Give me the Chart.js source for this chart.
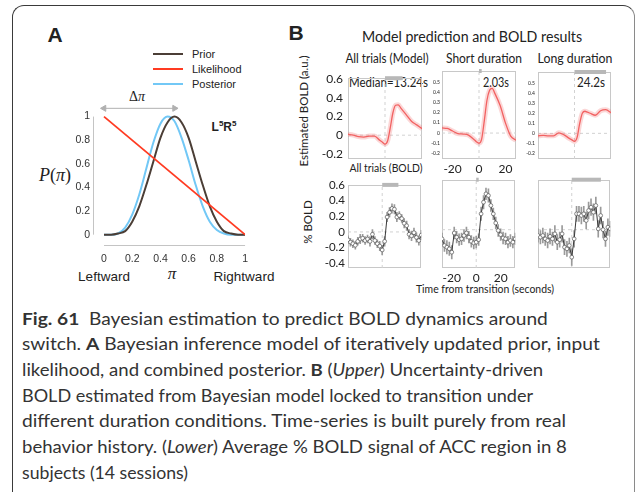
<!DOCTYPE html>
<html>
<head>
<meta charset="utf-8">
<script src="https://cdn.jsdelivr.net/npm/chart.js@4.4.1/dist/chart.umd.min.js"></script>
<style>
  body { margin: 0; background: #fff; }
  #page { position: relative; width: 637px; height: 492px; overflow: hidden; font-family: Lato, 'Liberation Sans', sans-serif; color: #222; }
  #frame { position: absolute; left: 12px; top: 5px; width: 621px; height: 510px; border: 1px solid #3a3a3a; border-right-color: #8a8a8a; border-radius: 12px; }
  .t { position: absolute; white-space: nowrap; line-height: 1; }
  .c { transform: translate(-50%, -50%); }
  .l { transform: translate(0, -50%); transform-origin: 0 50%; }
  .rot { transform: translate(-50%, -50%) rotate(-90deg); }
  .panel { position: absolute; }
  .sans { font-family: 'Liberation Sans', Arial, sans-serif; }
  .serif { font-family: 'Liberation Serif', 'DejaVu Serif', serif; }
  .cap { position: absolute; left: 22px; white-space: nowrap; font-family: Lato, sans-serif; font-size: 17px; line-height: 1; color: #333; transform-origin: 0 50%; }
  .legRow { position: absolute; left: 153px; height: 14px; }
  .legRow .sw { position: absolute; left: 0; top: 6px; width: 30px; height: 2px; }
  .legRow span { position: absolute; left: 39px; top: 1px; font-size: 11px; white-space: nowrap; }
  sup { font-size: 8px; vertical-align: 5px; line-height: 0; }
</style>
</head>
<body>
<div id="page">
  <div id="frame"></div>

  <!-- panel A text -->
  <div class="t c sans" style="left:55px;top:34px;font-size:21px;font-weight:bold">A</div>
  <div id="legendA" class="sans"></div>
  <div class="t c serif" style="left:137px;top:97px;font-size:14px">Δ<i>π</i></div>
  <div class="t c serif" style="left:55px;top:175px;font-size:18px"><i>P</i>(<i>π</i>)</div>
  <div class="t c sans" style="left:224px;top:127px;font-size:12px;font-weight:bold">L<sup>5</sup>R<sup>5</sup></div>
  <div class="t c sans" style="left:104px;top:277px;font-size:13.5px">Leftward</div>
  <div class="t c serif" style="left:172px;top:273px;font-size:17px"><i>π</i></div>
  <div class="t c sans" style="left:244px;top:277px;font-size:13.5px">Rightward</div>

  <!-- panel B text -->
  <div class="t c sans" style="left:296px;top:32px;font-size:21px;font-weight:bold">B</div>
  <div class="t c" data-w="220" style="left:472px;top:37px;font-size:14.5px">Model prediction and BOLD results</div>
  <div class="t c" data-w="83" style="left:387px;top:59px;font-size:12.5px">All trials (Model)</div>
  <div class="t c" data-w="76" style="left:484px;top:59px;font-size:12.5px">Short duration</div>
  <div class="t c" data-w="75" style="left:575px;top:59px;font-size:12.5px">Long duration</div>
  <div class="t rot" style="left:304px;top:111px;font-size:11.5px">Estimated BOLD (a.u.)</div>
  <div class="t l" data-w="79" style="left:349px;top:82px;font-size:13px">Median=13.24s</div>
  <div class="t l" data-w="26" style="left:483px;top:82px;font-size:13px">2.03s</div>
  <div class="t l" data-w="28" style="left:577px;top:82px;font-size:13px">24.2s</div>
  <div class="t c" data-w="73" style="left:386px;top:168px;font-size:11.5px">All trials (BOLD)</div>
  <div class="t rot" style="left:308px;top:222px;font-size:11.5px">% BOLD</div>
  <div class="t c" data-w="138" style="left:485px;top:288px;font-size:11px">Time from transition (seconds)</div>

  <!-- caption -->
  <div class="cap" data-w="526" style="top:318px"><b>Fig. 61</b>&nbsp; Bayesian estimation to predict BOLD dynamics around</div>
  <div class="cap" data-w="578" style="top:343px">switch. <b>A</b> Bayesian inference model of iteratively updated prior, input</div>
  <div class="cap" data-w="521" style="top:369px">likelihood, and combined posterior. <b>B</b> (<i>Upper</i>) Uncertainty-driven</div>
  <div class="cap" data-w="511" style="top:395px">BOLD estimated from Bayesian model locked to transition under</div>
  <div class="cap" data-w="544" style="top:420px">different duration conditions. Time-series is built purely from real</div>
  <div class="cap" data-w="545" style="top:446px">behavior history. (<i>Lower</i>) Average % BOLD signal of ACC region in 8</div>
  <div class="cap" data-w="166" style="top:472px">subjects (14 sessions)</div>
</div>

<script>
// ---- panel A data
const piGrid = [0, 0.05, 0.1, 0.15, 0.2, 0.25, 0.3, 0.35, 0.4, 0.45, 0.5, 0.55, 0.6, 0.65, 0.7, 0.75, 0.8, 0.85, 0.9, 0.95, 1];
const priorVals = [0, 0, 0.01, 0.03, 0.11, 0.24, 0.42, 0.62, 0.82, 0.95, 1, 0.95, 0.82, 0.62, 0.42, 0.24, 0.11, 0.03, 0.01, 0, 0];
const posteriorVals = [0, 0, 0.01, 0.06, 0.17, 0.34, 0.56, 0.78, 0.94, 1, 0.96, 0.82, 0.63, 0.42, 0.24, 0.11, 0.04, 0.01, 0, 0, 0];
const likelihoodX = [0, 1];
const likelihoodVals = [1, 0];
const deltaPi = [0, 0.5];
const aTicks = [0, 0.2, 0.4, 0.6, 0.8, 1];

// ---- panel B data
const tModel = [-28, -24, -20, -16, -12, -8, -4, -2, 0, 2, 4, 6, 8, 10, 12, 16, 20, 24, 28];
const modelAll = [0.01, 0.0, -0.015, -0.02, -0.01, -0.01, -0.055, -0.075, -0.095, -0.06, 0.08, 0.24, 0.32, 0.325, 0.29, 0.22, 0.15, 0.11, 0.07];
const modelShort = [0.05, 0.045, 0.02, -0.005, -0.01, -0.02, -0.06, -0.085, -0.1, -0.06, 0.12, 0.32, 0.42, 0.44, 0.39, 0.27, 0.1, -0.03, -0.07];
const modelLong = [-0.025, -0.02, -0.025, -0.025, 0.005, -0.015, -0.05, -0.065, -0.08, -0.04, 0.1, 0.2, 0.22, 0.21, 0.2, 0.18, 0.225, 0.235, 0.205];
const medians = [13.24, 2.03, 24.2];

const tBold = [-28, -26, -24, -22, -20, -18, -16, -14, -12, -10, -8, -6, -4, -2, 0, 2, 4, 6, 8, 10, 12, 14, 16, 18, 20, 22, 24, 26, 28, 30, 32];
const boldAll = [-0.1, -0.13, -0.15, -0.17, -0.12, -0.09, -0.08, -0.11, -0.09, -0.12, -0.03, -0.11, -0.15, -0.18, -0.23, -0.12, 0.19, 0.25, 0.3, 0.29, 0.19, 0.21, 0.17, 0.11, 0.08, -0.03, -0.05, -0.01, -0.07, -0.11, -0.04];
const boldAllErr = [0.05, 0.05, 0.05, 0.05, 0.05, 0.06, 0.05, 0.05, 0.05, 0.06, 0.06, 0.05, 0.05, 0.06, 0.06, 0.06, 0.06, 0.06, 0.06, 0.06, 0.06, 0.05, 0.05, 0.06, 0.06, 0.06, 0.06, 0.06, 0.06, 0.06, 0.06];
const boldShort = [-0.11, -0.19, -0.21, -0.23, -0.27, -0.04, -0.09, -0.12, -0.11, -0.07, -0.04, -0.09, -0.14, -0.16, -0.15, -0.12, 0.19, 0.33, 0.43, 0.41, 0.29, 0.19, 0.08, -0.01, -0.06, -0.1, -0.11, -0.15, -0.13, -0.15, -0.11];
const boldShortErr = [0.07, 0.07, 0.08, 0.08, 0.08, 0.07, 0.07, 0.07, 0.07, 0.07, 0.07, 0.07, 0.07, 0.07, 0.07, 0.07, 0.08, 0.08, 0.07, 0.08, 0.07, 0.07, 0.07, 0.07, 0.07, 0.07, 0.07, 0.07, 0.07, 0.07, 0.07];
const boldLong = [-0.07, -0.09, -0.07, -0.11, -0.13, -0.08, -0.11, -0.05, -0.15, -0.12, -0.05, -0.21, -0.23, -0.19, -0.33, -0.11, 0.19, 0.19, 0.17, 0.19, 0.11, 0.23, 0.27, 0.21, 0.29, 0.01, 0.17, 0.0, -0.11, 0.03, 0.01];
const boldLongErr = [0.08, 0.08, 0.09, 0.08, 0.09, 0.09, 0.08, 0.1, 0.09, 0.09, 0.1, 0.09, 0.09, 0.09, 0.1, 0.1, 0.09, 0.09, 0.1, 0.09, 0.1, 0.1, 0.1, 0.1, 0.1, 0.1, 0.1, 0.1, 0.09, 0.1, 0.09];

const upperYTicks = [-0.2, 0, 0.2, 0.4, 0.6];
const smallYTicks = [-0.2, -0.1, 0, 0.1, 0.2, 0.3, 0.4, 0.5];
const lowerYTicks = [-0.4, -0.2, 0, 0.2, 0.4, 0.6];
const timeTicks = [-20, 0, 20];

Chart.defaults.font.family = 'Lato';
const page = document.getElementById('page');

// grey box round each plot area
Chart.register({
    id: 'frame',
    beforeDatasetsDraw(chart, args, opts) {
        if (!opts.color) return;
        const a = chart.chartArea, ctx = chart.ctx;
        ctx.save();
        ctx.strokeStyle = opts.color;
        ctx.lineWidth = 1;
        ctx.strokeRect(Math.round(a.left) + 0.5, Math.round(a.top) + 0.5, Math.round(a.right - a.left) - 1, Math.round(a.bottom - a.top) - 1);
        ctx.restore();
    }
});

function addCanvas(left, top, w, h) {
    const wrap = document.createElement('div');
    wrap.className = 'panel';
    wrap.style.left = left + 'px';
    wrap.style.top = top + 'px';
    const cv = document.createElement('canvas');
    cv.width = w;
    cv.height = h;
    wrap.appendChild(cv);
    page.appendChild(wrap);
    return cv;
}

const pts = (xs, ys) => xs.map((x, i) => ({ x: x, y: ys[i] }));

// ---------------- panel A ----------------
const chartA = new Chart(addCanvas(40, 95, 215, 170), {
    type: 'line',
    data: {
        datasets: [{
            label: 'Prior',
            data: pts(piGrid, priorVals),
            borderColor: '#4b3e36',
            borderWidth: 2,
            pointRadius: 0,
            cubicInterpolationMode: 'monotone',
            order: 2
        }, {
            label: 'Likelihood',
            data: pts(likelihoodX, likelihoodVals),
            borderColor: '#ff3b22',
            borderWidth: 1.8,
            pointRadius: 0,
            order: 1
        }, {
            label: 'Posterior',
            data: pts(piGrid, posteriorVals),
            borderColor: '#72c8f6',
            borderWidth: 2,
            pointRadius: 0,
            cubicInterpolationMode: 'monotone',
            order: 3
        }, {
            data: deltaPi.map(x => ({ x: x, y: 1.07 })),
            borderColor: '#b0b0b0',
            backgroundColor: '#b0b0b0',
            borderWidth: 1,
            pointStyle: 'triangle',
            pointRadius: 3.5,
            pointRotation: [-90, 90],
            order: 4
        }]
    },
    options: {
        responsive: false,
        animation: false,
        layout: { padding: { top: 5, right: 7, left: 0, bottom: 0 } },
        plugins: { legend: { display: false }, tooltip: { enabled: false } },
        scales: {
            x: {
                type: 'linear', min: -0.078, max: 1,
                grid: { display: false, drawTicks: false }, border: { display: false },
                afterBuildTicks: s => { s.ticks = aTicks.map(v => ({ value: v })); },
                afterFit: s => { s.height = 19; },
                ticks: { padding: 7, color: '#333', font: { family: 'Liberation Sans', size: 10.5 }, maxRotation: 0, autoSkip: false, callback: v => String(v) }
            },
            y: {
                min: -0.096, max: 1.104,
                grid: { display: false, drawTicks: false }, border: { display: false },
                afterBuildTicks: s => { s.ticks = aTicks.map(v => ({ value: v })); },
                afterFit: s => { s.width = 53; },
                ticks: { padding: 3, color: '#333', font: { family: 'Liberation Sans', size: 10.5 }, autoSkip: false, callback: v => String(v) }
            }
        }
    },
    plugins: [{
        // detached light grey axis lines spanning the tick range
        id: 'offsetAxes',
        beforeDatasetsDraw(chart) {
            const ctx = chart.ctx, a = chart.chartArea;
            const xs = chart.scales.x, ys = chart.scales.y;
            ctx.save();
            ctx.strokeStyle = '#c4c4c4';
            ctx.lineWidth = 1;
            ctx.beginPath();
            ctx.moveTo(xs.getPixelForValue(aTicks[0]), a.bottom - 0.5);
            ctx.lineTo(xs.getPixelForValue(aTicks[aTicks.length - 1]), a.bottom - 0.5);
            ctx.moveTo(a.left + 0.5, ys.getPixelForValue(aTicks[0]));
            ctx.lineTo(a.left + 0.5, ys.getPixelForValue(aTicks[aTicks.length - 1]));
            ctx.stroke();
            ctx.restore();
        }
    }]
});

// legend for panel A built from the chart's own datasets
const legendA = document.getElementById('legendA');
chartA.data.datasets.filter(d => d.label).forEach((d, i) => {
    const row = document.createElement('div');
    row.className = 'legRow';
    row.style.top = (47 + i * 15) + 'px';
    row.innerHTML = `<div class="sw" style="background:${d.borderColor}"></div><span>${d.label}</span>`;
    legendA.appendChild(row);
});

// ---------------- panel B ----------------
function refLines(xr, yr) {
    const dash = { borderColor: '#d2d2d2', borderWidth: 1, borderDash: [3, 3], pointRadius: 0, order: 9 };
    return [
        Object.assign({ data: [{ x: xr[0], y: 0 }, { x: xr[1], y: 0 }] }, dash),
        Object.assign({ data: [{ x: 0, y: yr[0] }, { x: 0, y: yr[1] }] }, dash)
    ];
}

function medianBar(med, yr) {
    return {
        data: [{ x: 0, y: yr[1] }, { x: med, y: yr[1] }],
        borderColor: '#b8b8b8', borderWidth: 4, borderCapStyle: 'butt',
        pointRadius: 0, clip: false, order: 8
    };
}

function modelSets(vals) {
    const base = { data: pts(tModel, vals), pointRadius: 0, cubicInterpolationMode: 'monotone' };
    return [
        Object.assign({}, base, { borderColor: 'rgba(240,110,110,0.28)', borderWidth: 5, order: 3 }),
        Object.assign({}, base, { borderColor: '#f26262', borderWidth: 1.3, order: 1 })
    ];
}

function boldSets(vals, errs) {
    return [{
        data: pts(tBold, vals),
        borderColor: '#3a3a3a', borderWidth: 1,
        pointRadius: 1.9, pointBackgroundColor: '#fff', pointBorderColor: '#555', pointBorderWidth: 0.7,
        order: 1
    }, {
        type: 'bar',
        data: tBold.map((t, i) => ({ x: t, y: [vals[i] - errs[i], vals[i] + errs[i]] })),
        backgroundColor: '#9a9a9a',
        barThickness: 1,
        order: 3
    }];
}

function makePanel(box, xr, yr, yTicks, yFont, yPad, showX, datasets) {
    const padL = 34, padT = 4, padR = 4, padB = 22;
    const cv = addCanvas(box[0] - padL, box[1] - padT, box[2] - box[0] + padL + padR, box[3] - box[1] + padT + padB);
    return new Chart(cv, {
        type: 'line',
        data: { datasets: datasets },
        options: {
            responsive: false,
            animation: false,
            layout: { padding: { top: padT, right: padR, left: 0, bottom: 0 } },
            plugins: { legend: { display: false }, tooltip: { enabled: false }, frame: { color: '#c8c8c8' } },
            scales: {
                x: {
                    type: 'linear', min: xr[0], max: xr[1], offset: false,
                    grid: { display: false, drawTicks: false }, border: { display: false },
                    afterBuildTicks: s => { s.ticks = timeTicks.map(v => ({ value: v })); },
                    afterFit: s => { s.height = padB; },
                    ticks: { display: showX, padding: 3, color: '#222', font: { size: 12 }, maxRotation: 0, autoSkip: false }
                },
                y: {
                    min: yr[0], max: yr[1],
                    grid: { display: false, drawTicks: false }, border: { display: false },
                    afterBuildTicks: s => { s.ticks = (yTicks || []).map(v => ({ value: v })); },
                    afterFit: s => { s.width = padL; },
                    ticks: { display: !!yTicks, padding: yPad, color: '#222', font: { size: yFont }, autoSkip: false, callback: v => String(v) }
                }
            }
        }
    });
}

const upX = [-28, 28], upY = [-0.255, 0.61];
const loX = [-28, 32], loY = [-0.46, 0.6];
const cols = [[348, 422], [442, 516], [538, 611]];
const upRow = [70, 159], loRow = [179, 268];
const box = (c, r) => [c[0], r[0], c[1], r[1]];

makePanel(box(cols[0], upRow), upX, upY, upperYTicks, 12, 5, false,
    [...refLines(upX, upY), medianBar(medians[0], upY), ...modelSets(modelAll)]);
makePanel(box(cols[1], upRow), upX, upY, smallYTicks, 5, 2, true,
    [...refLines(upX, upY), medianBar(medians[1], upY), ...modelSets(modelShort)]);
makePanel(box(cols[2], upRow), upX, upY, smallYTicks, 5, 3, false,
    [...refLines(upX, upY), medianBar(medians[2], upY), ...modelSets(modelLong)]);

makePanel(box(cols[0], loRow), loX, loY, lowerYTicks, 11.5, 3, false,
    [...refLines(loX, loY), medianBar(medians[0], loY), ...boldSets(boldAll, boldAllErr)]);
makePanel(box(cols[1], loRow), loX, loY, null, 12, 3, true,
    [...refLines(loX, loY), medianBar(medians[1], loY), ...boldSets(boldShort, boldShortErr)]);
makePanel(box(cols[2], loRow), loX, loY, null, 12, 3, false,
    [...refLines(loX, loY), medianBar(medians[2], loY), ...boldSets(boldLong, boldLongErr)]);

// squeeze text to the widths measured on the original (its font is narrower)
document.querySelectorAll('[data-w]').forEach(el => {
    const w = el.getBoundingClientRect().width;
    const k = (parseFloat(el.dataset.w) / w).toFixed(3);
    if (el.classList.contains('c')) {
        el.style.transform = `translate(-50%, -50%) scaleX(${k})`;
    } else {
        el.style.transformOrigin = '0 50%';
        el.style.transform = `translateY(-50%) scaleX(${k})`;
    }
});
</script>
</body>
</html>
